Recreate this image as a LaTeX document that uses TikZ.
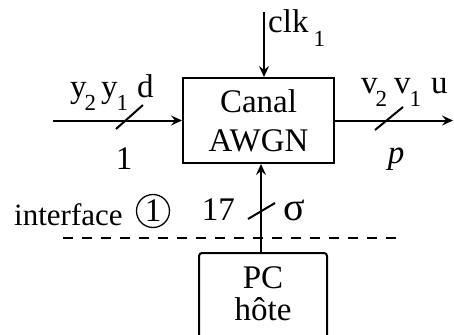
\documentclass[tikz,border=0pt]{standalone}
\usepackage{fontspec}
\setmainfont{Liberation Serif}
\usetikzlibrary{arrows.meta}
\newcommand{\sbs}[1]{\raisebox{-0.42em}{\fontsize{23}{23}\selectfont #1}}
\begin{document}
\begin{tikzpicture}[x=1pt,y=-1pt,
  every node/.style={font=\fontsize{33}{40}\selectfont, inner sep=0pt},
  ln/.style={line width=2pt},
  arr/.style={ln, -{Stealth[length=11pt,width=10pt,inset=4pt]}},
  boxn/.style={draw, line width=2pt}]
\useasboundingbox (0,0) rectangle (454,334);
% main box
\node[boxn, minimum width=151pt, minimum height=85pt, align=center] (canal) at (258.5,120.5) {Canal\\[-1pt]AWGN};
% host box
\begin{scope}
\clip (0,0) rectangle (454,334);
\node[boxn, rounded corners=3pt, minimum width=128pt, minimum height=120pt, anchor=north] (pc) at (263,252) {};
\end{scope}
\node[anchor=base] (pct1) at (263,288) {PC};
\node[anchor=base] (pct2) at (263,320) {hôte};
% input
\coordinate (inL) at (53,120.5);
\draw[arr] (inL) -- (canal.west);
\draw[ln] (116,129) -- (143,105);
\node[anchor=base west] (inlab) at (70,97) {y\kern-2pt\sbs{2}\kern5pt y\kern-1pt\sbs{1}\kern9pt d};
\node[anchor=base] (inw) at (124,169) {1};
% output
\coordinate (outR) at (453,120.5);
\draw[arr] (canal.east) -- (outR);
\draw[ln] (375,130) -- (403,107);
\node[anchor=base west] (outlab) at (361,93) {v\kern-2pt\sbs{2}\kern7pt v\kern-1pt\sbs{1}\kern10pt u};
\node[anchor=base] (outw) at (396,163) {\itshape p};
% clock
\coordinate (clkT) at (264,12);
\draw[arr] (clkT) -- (clkT |- canal.north);
\node[anchor=base west] (clklab) at (268,33) {clk\kern5pt\sbs{1}};
% sigma
\coordinate (sigB) at (261,252);
\draw[arr] (sigB) -- (sigB |- canal.south);
\draw[ln] (248,219) -- (275,203);
\node[anchor=base east] (sw) at (235,220) {17};
\node[anchor=base west, font=\fontsize{40}{40}\selectfont] (sl) at (283,220) {σ};
% interface
\draw[line width=1.2pt, dash pattern=on 10pt off 9pt] (63,238) -- (399,238);
\node[anchor=base west, font=\fontsize{31}{40}\selectfont] (ifl) at (14,225) {interface};
\node[draw, circle, line width=1.3pt, minimum size=33pt] (ifc) at (153,211) {1};
\end{tikzpicture}
\end{document}
